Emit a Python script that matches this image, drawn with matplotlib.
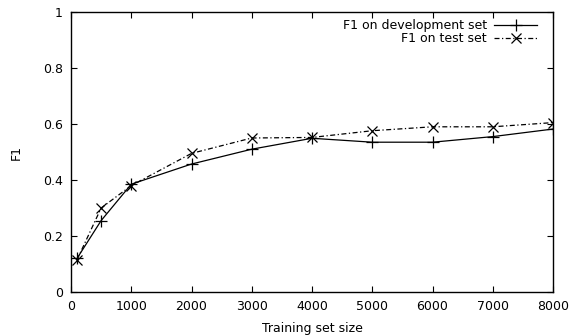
import matplotlib
matplotlib.use('Agg')
import matplotlib.pyplot as plt

sizes = [100, 500, 1000, 2000, 3000, 4000, 5000, 6000, 7000, 8000]
f1_dev = [0.120, 0.255, 0.385, 0.457, 0.510, 0.549, 0.535, 0.535, 0.555, 0.582]
f1_test = [0.115, 0.300, 0.380, 0.495, 0.550, 0.552, 0.576, 0.590, 0.590, 0.605]

plt.rcParams['font.family'] = 'DejaVu Sans'
plt.rcParams['font.size'] = 9

fig = plt.figure(figsize=(5.72, 3.36), dpi=100)
ax = fig.add_axes([71/572, 44/336, 482/572, 280/336])

ax.plot(sizes, f1_dev, '-', marker='+', color='black', linewidth=0.9,
	markersize=8, markeredgewidth=0.9, label='F1 on development set')
ax.plot(sizes, f1_test, '-.', marker='x', color='black', linewidth=0.9,
	markersize=7, markeredgewidth=0.9, dashes=(4, 2, 1, 2), label='F1 on test set')

ax.set_xlim(0, 8000)
ax.set_ylim(0, 1)
ax.set_xticks(range(0, 8001, 1000))
ax.set_yticks([0, 0.2, 0.4, 0.6, 0.8, 1])
ax.set_yticklabels(['0', '0.2', '0.4', '0.6', '0.8', '1'])
ax.tick_params(direction='in', top=True, right=True, length=4.5, width=0.8, pad=6)
for s in ax.spines.values():
	s.set_linewidth(1.0)

ax.set_xlabel('Training set size', labelpad=6)
ax.set_ylabel('F1', labelpad=14)

# gnuplot-like key: text first, sample on the right
ax.legend(loc='upper right', bbox_to_anchor=(0.982, 1.0), frameon=False,
	markerfirst=False, handlelength=3.4, borderaxespad=0.2,
	labelspacing=0.0, handletextpad=0.6)

fig.savefig('out.png', dpi=100)
